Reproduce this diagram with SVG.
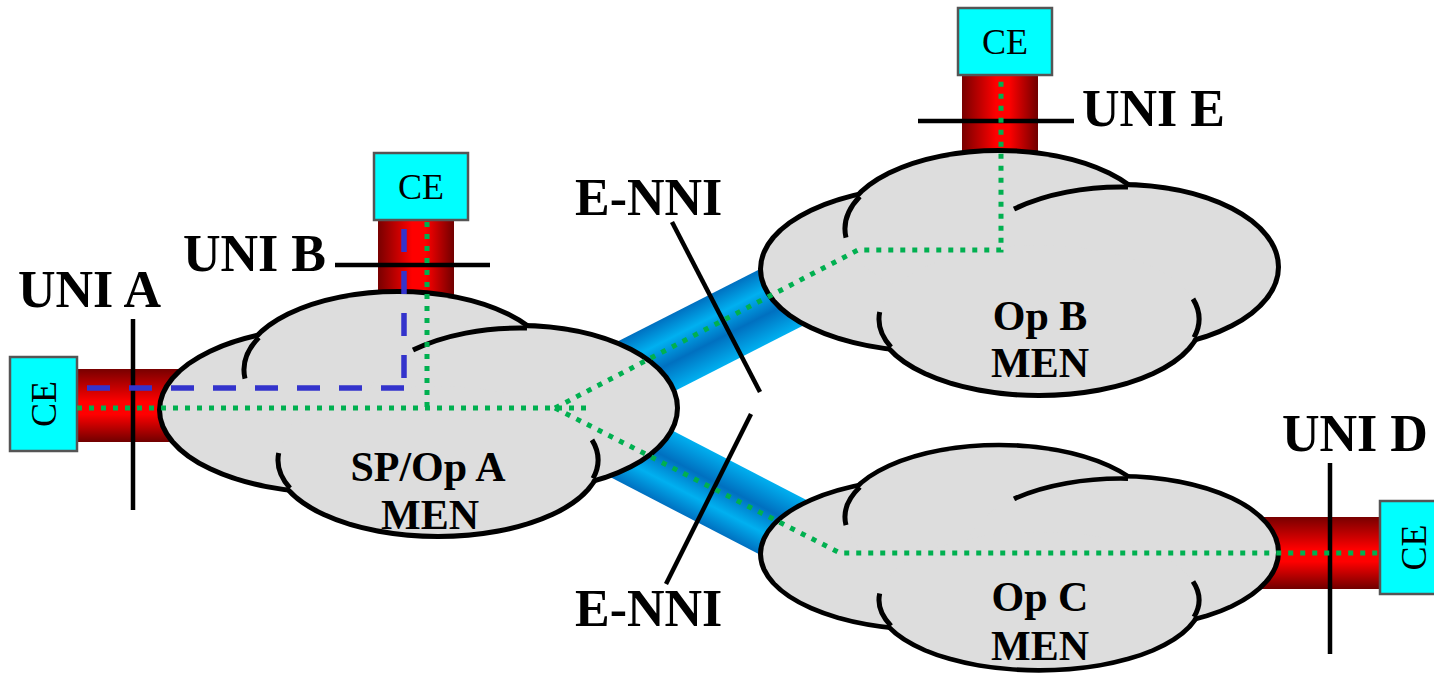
<svg xmlns="http://www.w3.org/2000/svg" xmlns:xlink="http://www.w3.org/1999/xlink" width="1434" height="679" viewBox="0 0 1434 679">
<style>
.lbl{font-family:"Liberation Serif","Times New Roman",serif;font-weight:bold;font-size:52px;fill:#000}
.cl{font-family:"Liberation Serif","Times New Roman",serif;font-weight:bold;font-size:42px;fill:#000;text-anchor:middle}
.ce{fill:#00FFFF;stroke:#555;stroke-width:2.5}
.cet{font-family:"Liberation Serif","Times New Roman",serif;font-size:36px;fill:#000;text-anchor:middle}
.bar{stroke:#000;stroke-width:4.5;fill:none}
.evc{fill:none;stroke:#00B050;stroke-width:5;stroke-dasharray:5 7}
.evb{fill:none;stroke:#3333CC;stroke-width:5.5;stroke-dasharray:23 19}
</style>
<defs>
<linearGradient id="redH" x1="0" y1="0" x2="0" y2="1">
<stop offset="0" stop-color="#780000"/><stop offset="0.45" stop-color="#FF0000"/><stop offset="0.62" stop-color="#FF0000"/><stop offset="1" stop-color="#700000"/>
</linearGradient>
<linearGradient id="redV" x1="0" y1="0" x2="1" y2="0">
<stop offset="0" stop-color="#780000"/><stop offset="0.45" stop-color="#FF0000"/><stop offset="0.62" stop-color="#FF0000"/><stop offset="1" stop-color="#700000"/>
</linearGradient>
<linearGradient id="blue" x1="0" y1="0" x2="0" y2="1">
<stop offset="0" stop-color="#0070C0"/><stop offset="0.3" stop-color="#00B0F0"/><stop offset="0.62" stop-color="#0070C0"/><stop offset="1" stop-color="#00B0F0"/>
</linearGradient>
<g id="cloud">
<g fill="#000" stroke="#000" stroke-width="10">
<ellipse cx="330" cy="410" rx="168" ry="80"/>
<ellipse cx="398" cy="370" rx="154" ry="76"/>
<ellipse cx="520" cy="408" rx="155" ry="80"/>
<ellipse cx="438" cy="460" rx="160" ry="74"/>
</g>
<g fill="#DDDDDD">
<ellipse cx="330" cy="410" rx="168" ry="80"/>
<ellipse cx="398" cy="370" rx="154" ry="76"/>
<ellipse cx="520" cy="408" rx="155" ry="80"/>
<ellipse cx="438" cy="460" rx="160" ry="74"/>
</g>
<path fill="none" stroke="#000" stroke-width="5" d="M245,378.6 A154,76 0 0 1 258.8,337.4 M413,350.1 A155,80 0 0 1 527,328.1 M278.7,453 A160,74 0 0 0 290,488.1 M592,439.9 A160,74 0 0 1 593,478.4"/>
</g>
</defs>

<g id="links">
<rect id="link-ab" x="0" y="-35" width="303" height="70" fill="url(#blue)" transform="translate(574,403) rotate(-27)"/>
<rect id="link-ac" x="0" y="-35" width="287" height="70" fill="url(#blue)" transform="translate(580,422) rotate(27.4) scale(1,-1)"/>
<rect id="tube-a" x="77" y="369" width="130" height="73" fill="url(#redH)"/>
<rect id="tube-b" x="378" y="220" width="76" height="90" fill="url(#redV)"/>
<rect id="tube-e" x="962" y="76" width="76" height="100" fill="url(#redV)"/>
<rect id="tube-d" x="1240" y="517" width="140" height="72" fill="url(#redH)"/>
</g>

<g id="cloud-a">
<use href="#cloud"/>
<text class="cl" x="428" y="481">SP/Op A</text>
<text class="cl" x="430" y="529">MEN</text>
</g>
<g id="cloud-b">
<use href="#cloud" transform="translate(601,-141)"/>
<text class="cl" x="1040" y="330">Op B</text>
<text class="cl" x="1040" y="377">MEN</text>
</g>
<g id="cloud-c">
<use href="#cloud" transform="translate(601,176.8) scale(1,0.92)"/>
<text class="cl" x="1040" y="611">Op C</text>
<text class="cl" x="1040" y="660">MEN</text>
</g>

<g id="ce-a">
<rect class="ce" x="10" y="357" width="67" height="94"/>
<text class="cet" x="43.5" y="416" transform="rotate(-90 43.5 404)">CE</text>
</g>
<g id="ce-b">
<rect class="ce" x="374" y="153" width="94" height="67"/>
<text class="cet" x="421" y="199">CE</text>
</g>
<g id="ce-e">
<rect class="ce" x="958" y="8" width="94" height="67"/>
<text class="cet" x="1005" y="54">CE</text>
</g>
<g id="ce-d">
<rect class="ce" x="1380" y="501" width="67" height="93"/>
<text class="cet" x="1413.5" y="559.5" transform="rotate(-90 1413.5 547.5)">CE</text>
</g>

<g id="interfaces">
<path class="bar" d="M133,319 V510"/>
<path class="bar" d="M335,265 H490"/>
<path class="bar" d="M918,121 H1074"/>
<path class="bar" d="M1330,463 V654"/>
<path class="bar" stroke-width="4" d="M672,222 L760,392"/>
<path class="bar" stroke-width="4" d="M751,414 L666,584"/>
<text class="lbl" x="18" y="307">UNI A</text>
<text class="lbl" x="183" y="271">UNI B</text>
<text class="lbl" x="1082" y="126">UNI E</text>
<text class="lbl" x="1282" y="451">UNI D</text>
<text class="lbl" x="575" y="215">E-NNI</text>
<text class="lbl" x="575" y="626">E-NNI</text>
</g>

<g id="connectors">
<path class="evb" d="M404,229 V388"/>
<path class="evb" d="M404,388 H86"/>
<path class="evc" d="M77,408 H590"/>
<path class="evc" d="M427,222 V412"/>
<path class="evc" d="M555,408 L858,250 H1001 V77"/>
<path class="evc" d="M555,408 L840,553 H1380"/>
</g>
</svg>
